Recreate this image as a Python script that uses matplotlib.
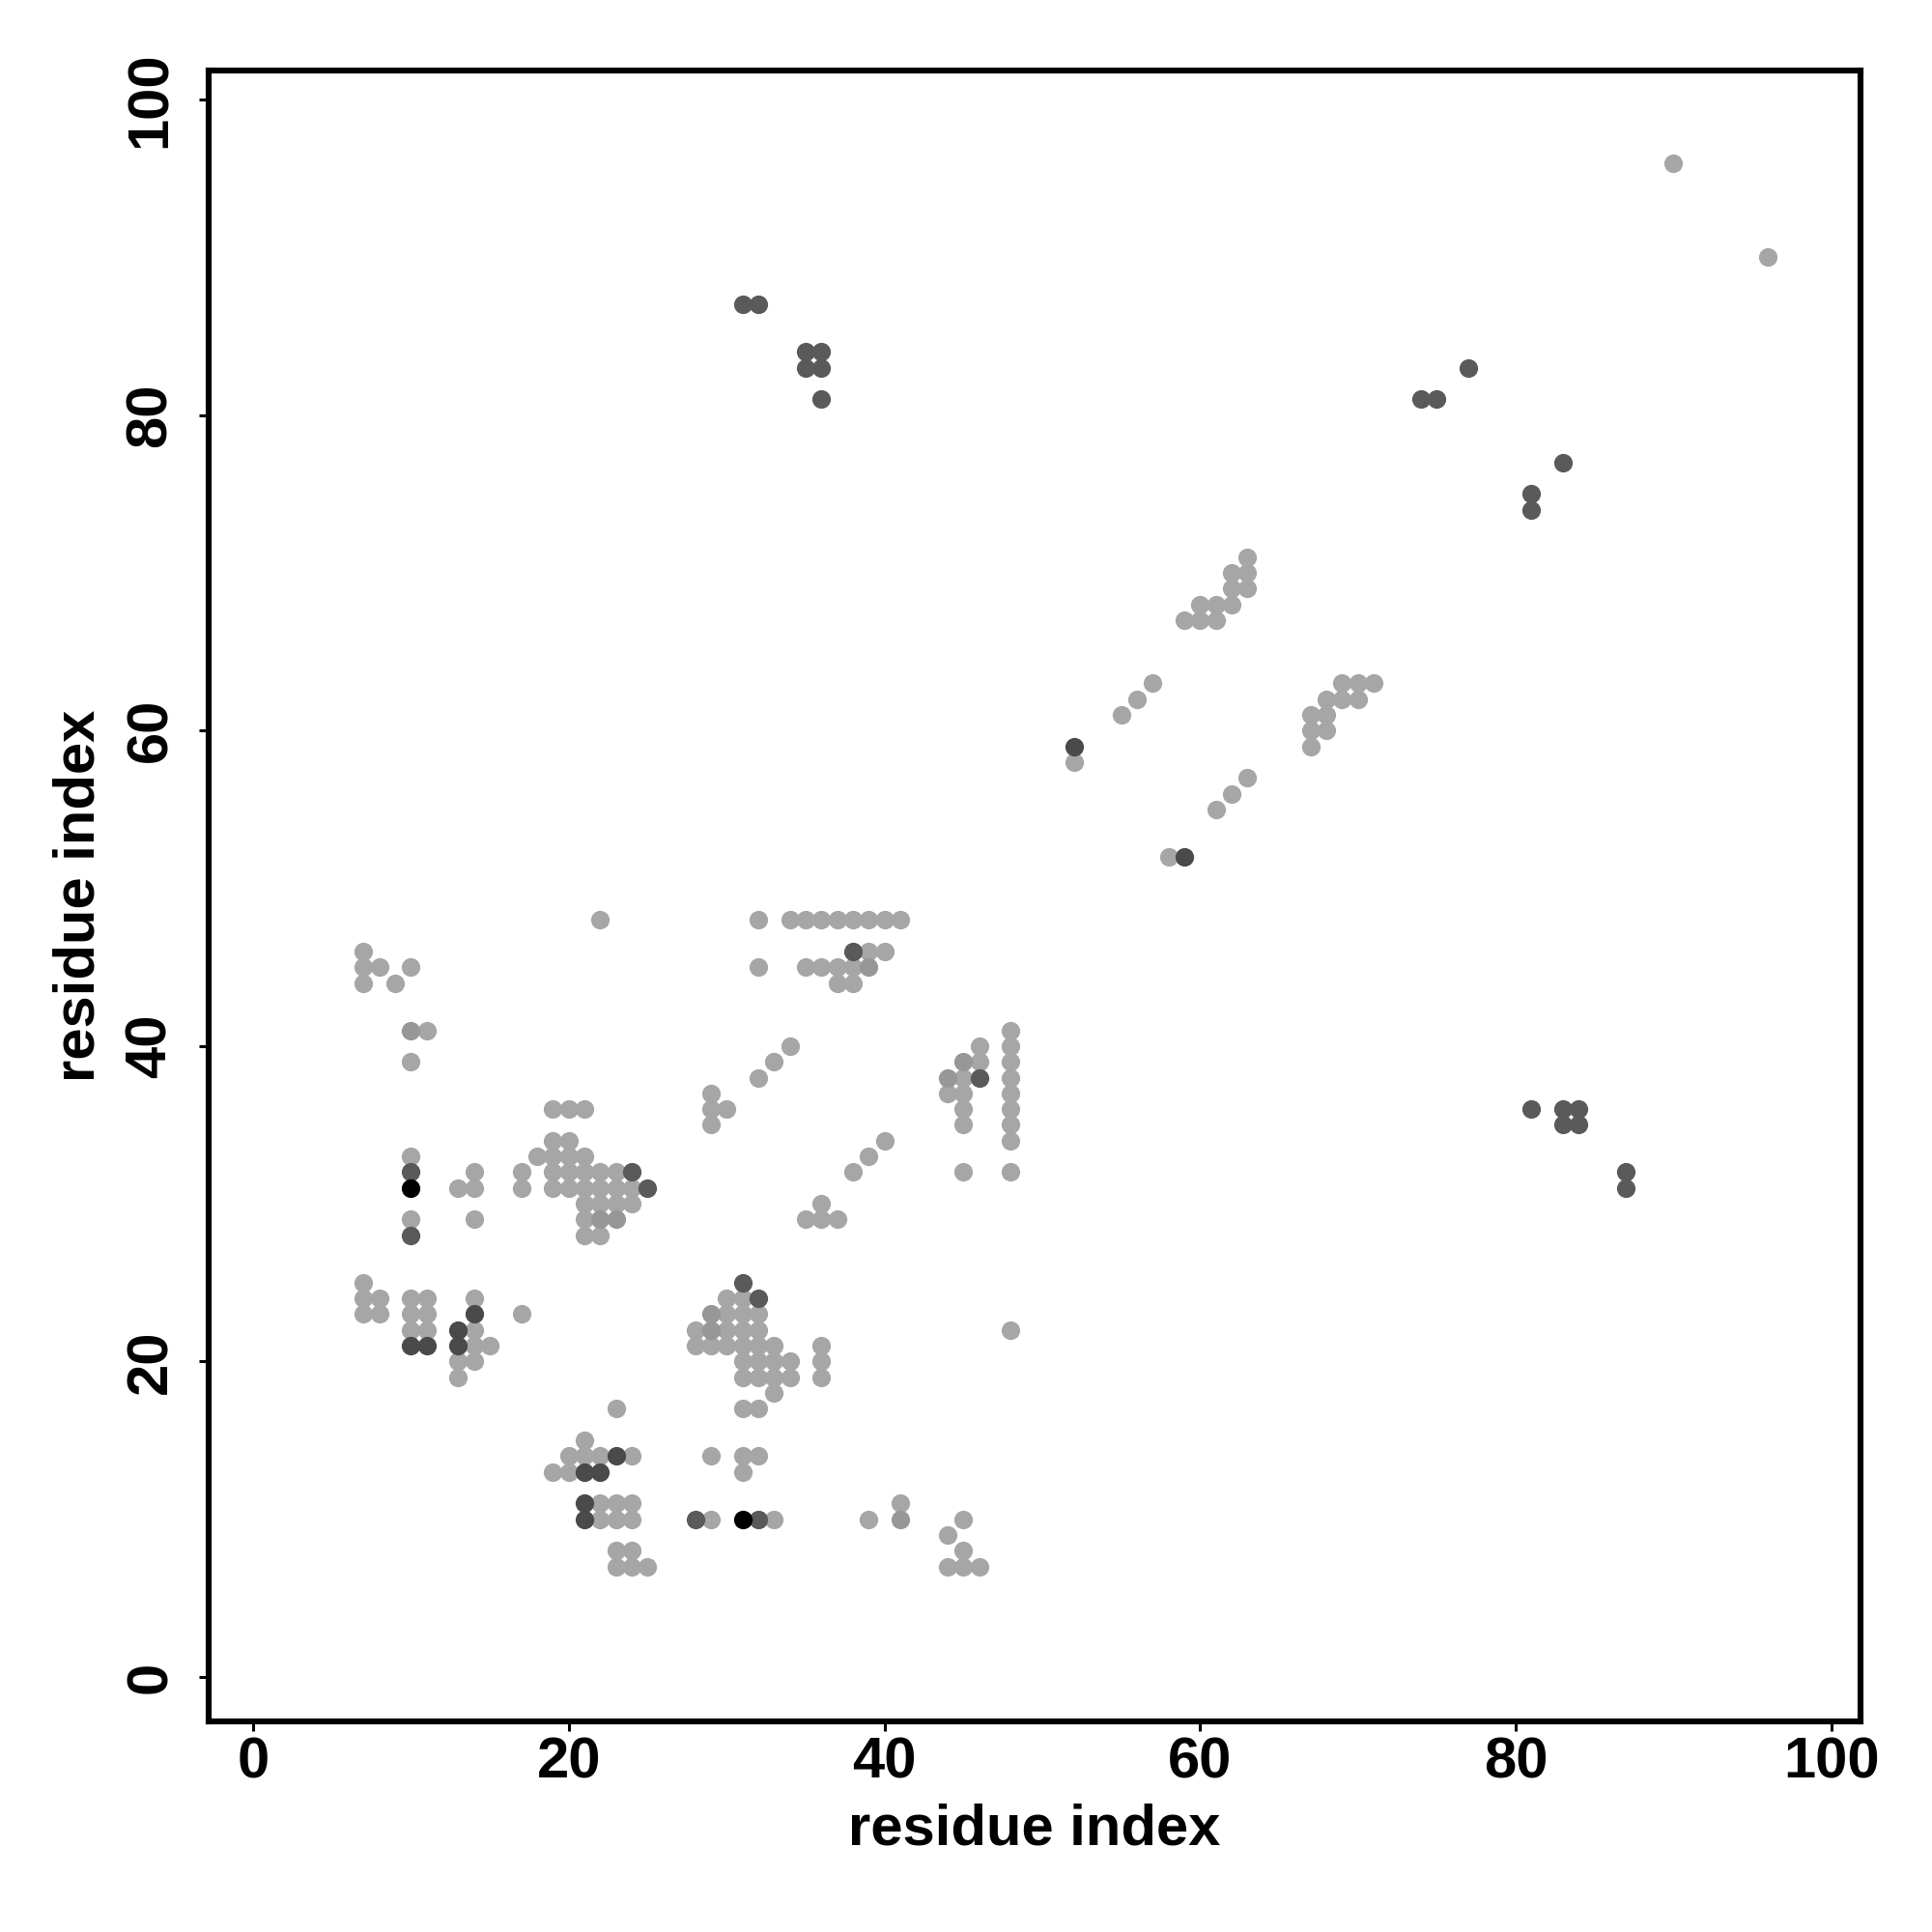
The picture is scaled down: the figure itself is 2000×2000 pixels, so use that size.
import matplotlib
matplotlib.use('Agg')
import matplotlib.pyplot as plt

plt.rcParams['font.family'] = ['Liberation Sans', 'DejaVu Sans']
plt.rcParams['font.weight'] = 'bold'

# contact map points, grouped by shade
light_x = [90, 96, 52, 58, 61, 62, 63, 55, 56, 57,
           63, 62, 63, 62, 63, 60, 61, 62, 59, 60, 61,
           69, 70, 71, 68, 69, 70, 67, 68, 67, 68, 67,
           22, 7, 7, 8, 10, 7, 9, 11, 10,
           19, 20, 21, 19, 20, 18, 19, 20, 21, 10,
           14, 17, 19, 20, 21, 22, 23,
           13, 14, 17, 19, 20, 21, 22, 23, 24,
           21, 22, 23, 24, 10, 14, 21, 21, 22,
           32, 34, 35, 36, 37, 38, 39, 40, 41, 39, 40,
           32, 35, 36, 37, 38, 37, 38, 34, 33, 32,
           29, 29, 29, 30,
           48, 48, 48, 48, 48, 48, 48, 48, 48,
           46, 46, 45, 44, 45, 45, 45, 45,
           40, 39, 38, 36, 35, 36, 37,
           7, 7, 8, 7, 8, 10, 11, 10, 11, 10, 11,
           14, 14, 14, 15, 13, 14, 13, 17,
           23, 21, 20, 21, 22, 24, 19, 20,
           22, 23, 24, 22, 23, 24, 23, 24, 23, 24, 25,
           30, 31, 30, 31, 32, 28, 30, 31, 32,
           28, 29, 30, 31, 32, 33, 36, 36, 36,
           31, 32, 33, 34, 31, 32, 33, 34, 33, 31, 32,
           29, 31, 32, 31, 48, 29, 33, 39, 41,
           45, 44, 45, 44, 45, 46]
light_y = [96, 90, 58, 52, 55, 56, 57, 61, 62, 63,
           71, 70, 70, 69, 69, 68, 68, 68, 67, 67, 67,
           63, 63, 63, 62, 62, 62, 61, 61, 60, 60, 59,
           48, 46, 45, 45, 45, 44, 44, 41, 39,
           36, 36, 36, 34, 34, 33, 33, 33, 33, 33,
           32, 32, 32, 32, 32, 32, 32,
           31, 31, 31, 31, 31, 31, 31, 31, 31,
           30, 30, 30, 30, 29, 29, 29, 28, 28,
           48, 48, 48, 48, 48, 48, 48, 48, 48, 46, 46,
           45, 45, 45, 45, 45, 44, 44, 40, 39, 38,
           37, 36, 35, 36,
           41, 40, 39, 38, 37, 36, 35, 34, 32,
           40, 39, 38, 37, 37, 36, 35, 32,
           34, 33, 32, 30, 29, 29, 29,
           25, 24, 24, 23, 23, 24, 24, 23, 23, 22, 22,
           24, 22, 21, 21, 20, 20, 19, 23,
           17, 15, 14, 14, 14, 14, 13, 13,
           11, 11, 11, 10, 10, 10, 8, 8, 7, 7, 7,
           24, 24, 23, 23, 23, 22, 22, 22, 22,
           21, 21, 21, 21, 21, 21, 21, 20, 19,
           20, 20, 20, 20, 19, 19, 19, 19, 18, 17, 17,
           14, 14, 14, 13, 22, 10, 10, 10, 11,
           10, 9, 8, 7, 7, 7]

mid_x = [10, 22, 23, 29, 29, 39, 45, 44, 41]
mid_y = [41, 29, 29, 23, 22, 45, 39, 38, 10]

dark_x = [31, 32, 35, 36, 35, 36, 36,
          74, 75, 77, 83, 81, 81,
          81, 83, 84, 83, 84, 87, 87,
          10, 10, 24, 25, 38, 46, 31, 32, 28, 32]
dark_y = [87, 87, 84, 84, 83, 83, 81,
          81, 81, 83, 77, 75, 74,
          36, 36, 36, 35, 35, 32, 31,
          32, 28, 32, 31, 46, 38, 25, 24, 10, 10]

darker_x = [52, 59, 10, 11, 14, 13, 13, 23, 21, 22, 21, 21]
darker_y = [59, 52, 21, 21, 23, 22, 21, 14, 13, 13, 11, 10]

black_x = [10, 31]
black_y = [31, 10]

fig = plt.figure(figsize=(10, 10), dpi=200)
ax = fig.add_axes([0.108, 0.109, 0.855, 0.8545])

msize = 48
ax.scatter(light_x, light_y, s=msize, c='#a6a6a6', linewidths=0)
ax.scatter(mid_x, mid_y, s=msize, c='#979797', linewidths=0)
ax.scatter(dark_x, dark_y, s=msize, c='#5a5a5a', linewidths=0)
ax.scatter(darker_x, darker_y, s=msize, c='#4a4a4a', linewidths=0)
ax.scatter(black_x, black_y, s=msize, c='#000000', linewidths=0)

ax.set_xlim(-2.82, 101.85)
ax.set_ylim(-2.82, 101.85)
ticks = [0, 20, 40, 60, 80, 100]
ax.set_xticks(ticks)
ax.set_yticks(ticks)
ax.set_xticklabels([str(t) for t in ticks], fontsize=21.5, fontweight='bold')
ax.set_yticklabels([str(t) for t in ticks], fontsize=21.5, fontweight='bold',
                   rotation=90, va='center')
ax.tick_params(direction='out', length=3.5, width=1.1)
ax.tick_params(axis='x', pad=2)
ax.tick_params(axis='y', pad=8)
for sp in ax.spines.values():
    sp.set_linewidth(2.2)

ax.set_xlabel('residue index', fontsize=21.5, fontweight='bold', labelpad=5)
ax.set_ylabel('residue index', fontsize=21.5, fontweight='bold', labelpad=7)

fig.savefig('out.png', dpi=200)
